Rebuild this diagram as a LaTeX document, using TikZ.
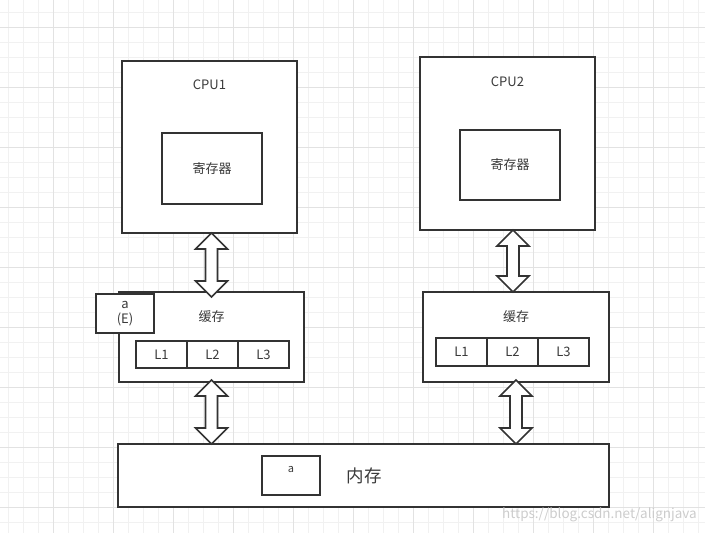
\documentclass[tikz,border=0pt]{standalone}
\usepackage{fontspec}
\setmainfont{Noto Sans CJK SC}
\usetikzlibrary{calc,positioning}
\definecolor{linec}{HTML}{333333}
\definecolor{textc}{HTML}{3A3A3A}
\definecolor{gridminor}{HTML}{F1F1F1}
\definecolor{gridmajor}{HTML}{E2E2E2}
\tikzset{
  box/.style={draw=linec, line width=1.6pt, fill=white, inner sep=0pt, outer sep=0pt,
    text=textc, font=\fontsize{13}{15}\selectfont},
  lbox/.style={box, minimum width=51pt, minimum height=27pt},
  txt/.style={text=textc, inner sep=0pt, font=\fontsize{13}{15}\selectfont},
  fatarrow/.style={draw=linec, line width=1.6pt, fill=white, line join=miter},
}
% 双向空心箭头: #1 上端, #2 下端
\newcommand{\dblarrow}[2]{%
  \draw[fatarrow] let \p1=#1, \p2=#2 in
    (\x1,\y1) -- (\x1+16pt,\y1-16pt) -- (\x1+6pt,\y1-16pt) -- (\x1+6pt,\y2+16pt)
    -- (\x1+16pt,\y2+16pt) -- (\x1,\y2) -- (\x1-16pt,\y2+16pt) -- (\x1-6pt,\y2+16pt)
    -- (\x1-6pt,\y1-16pt) -- (\x1-16pt,\y1-16pt) -- cycle;}
\begin{document}
\begin{tikzpicture}[x=1pt,y=-1pt]
  \useasboundingbox (0,0) rectangle (705,533);
  % 背景网格
  \foreach \gx in {8.3,23.3,...,705} \draw[color=gridminor, line width=0.8pt] (\gx,0) -- (\gx,533);
  \foreach \gy in {12.5,27.5,...,533} \draw[color=gridminor, line width=0.8pt] (0,\gy) -- (705,\gy);
  \foreach \gx in {53.3,113.3,...,705} \draw[color=gridmajor, line width=0.8pt] (\gx,0) -- (\gx,533);
  \foreach \gy in {27.5,87.5,...,533} \draw[color=gridmajor, line width=0.8pt] (0,\gy) -- (705,\gy);

  % CPU
  \node[box, minimum width=175pt, minimum height=172pt] (cpu1) at (209.5,147) {};
  \node[txt] (cpu1t) at ([yshift=-24pt]cpu1.north) {CPU1};
  \node[box, minimum width=100pt, minimum height=71pt] (reg1) at (212,168.5) {寄存器};
  \node[box, minimum width=175pt, minimum height=173pt] (cpu2) at (507.5,143.5) {};
  \node[txt] (cpu2t) at ([yshift=-24.5pt]cpu2.north) {CPU2};
  \node[box, minimum width=100pt, minimum height=70pt] (reg2) at (510,165) {寄存器};

  % 缓存
  \node[box, minimum width=185pt, minimum height=90pt] (cache1) at (211.5,337) {};
  \node[txt] (cache1t) at ([yshift=-24.5pt]cache1.north) {缓存};
  \node[lbox] (l1a) at (161.5,354.5) {L1};
  \node[lbox, right=0pt of l1a] (l2a) {L2};
  \node[lbox, right=0pt of l2a] (l3a) {L3};
  \node[box, minimum width=58pt, minimum height=39pt, align=center] (ea) at (125,313.5) {a\\(E)};

  \node[box, minimum width=186pt, minimum height=90pt] (cache2) at (516,337) {};
  \node[txt] (cache2t) at ([yshift=-24.5pt]cache2.north) {缓存};
  \node[lbox, minimum height=28pt] (l1b) at (461.5,352) {L1};
  \node[lbox, minimum height=28pt, right=0pt of l1b] (l2b) {L2};
  \node[lbox, minimum height=28pt, right=0pt of l2b] (l3b) {L3};

  % 内存
  \node[box, minimum width=491pt, minimum height=63pt] (mem) at (363.5,475.5) {};
  \node[box, minimum width=58pt, minimum height=39pt] (mema) at (291,475.5) {};
  \node[txt, font=\fontsize{11}{13}\selectfont] (memat) at ([yshift=6.2pt]mema.center) {a};
  \node[txt, font=\fontsize{17.5}{20}\selectfont] (memt) at (364.3,476) {内存};

  % 箭头
  \dblarrow{(cache1.north |- cpu1.south)}{([yshift=-5pt]cache1.north)}
  \dblarrow{([xshift=-3pt]cache2.north |- cpu2.south)}{([xshift=-3pt]cache2.north)}
  \dblarrow{([yshift=2pt]cache1.south)}{(cache1.south |- mem.north)}
  \dblarrow{([yshift=2pt]cache2.south)}{(cache2.south |- mem.north)}

  \node[anchor=east, text=gray!40, inner sep=0pt, font=\fontsize{13.5}{15}\selectfont] (mark) at (697,515) {https://blog.csdn.net/alignjava};
\end{tikzpicture}
\end{document}
